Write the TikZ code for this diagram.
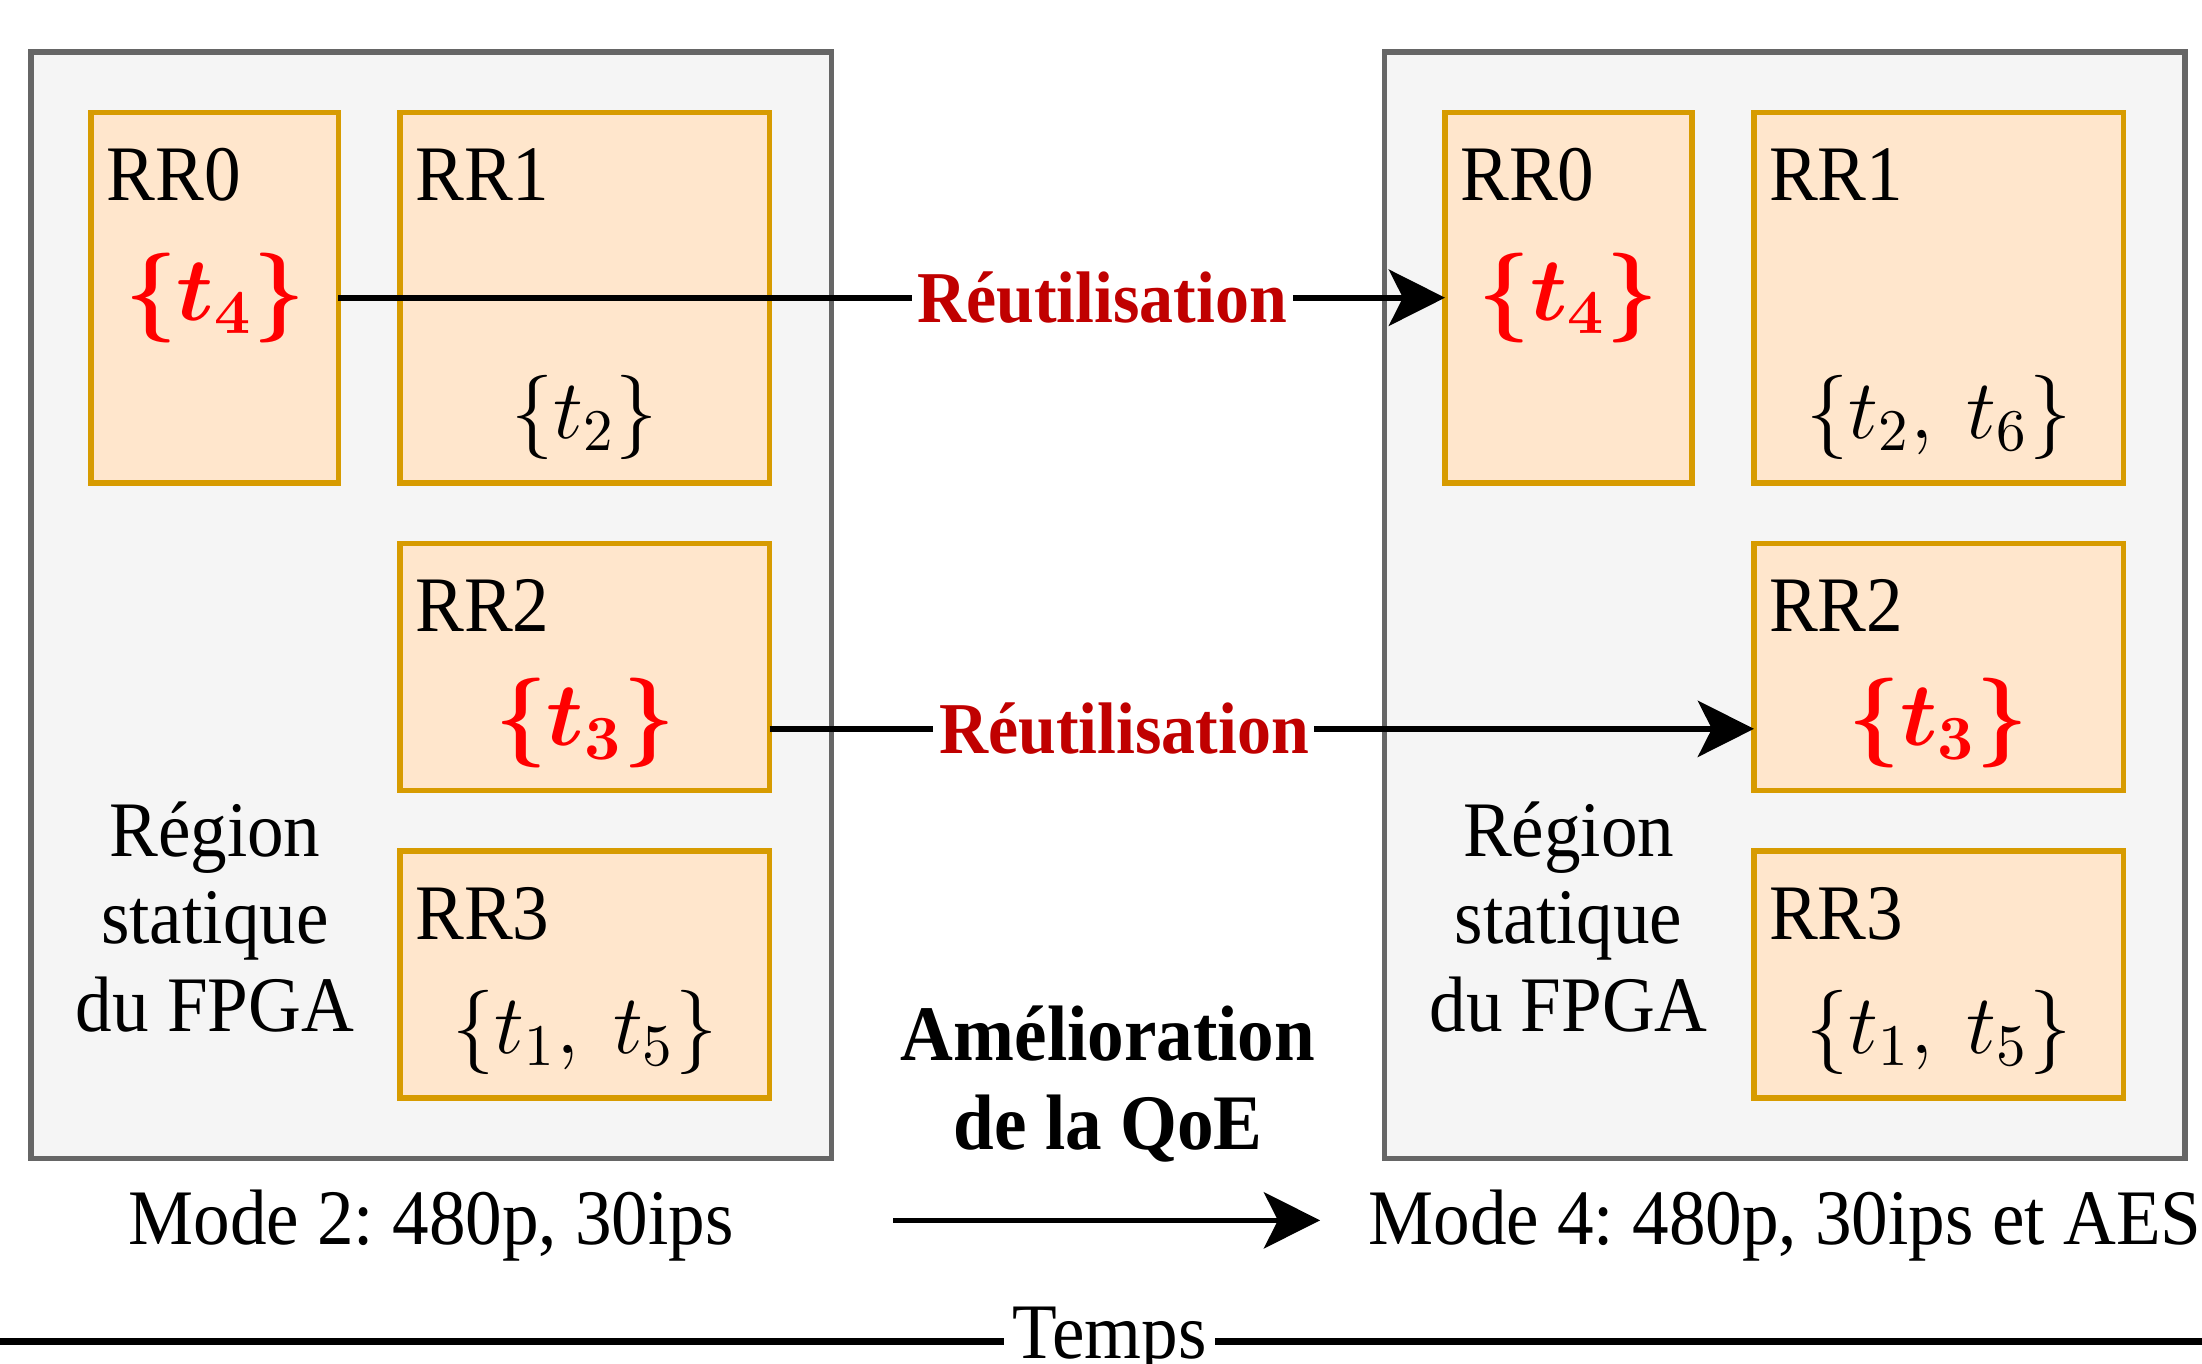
\RequirePackage{fix-cm}
\documentclass[tikz,border=0pt]{standalone}
\usepackage[no-math]{fontspec}
\setmainfont[FakeStretch=0.93]{Liberation Serif}
\usepackage{amsmath}
\usetikzlibrary{calc,positioning,arrows.meta}
\frenchspacing

\definecolor{regfill}{HTML}{F5F5F5}
\definecolor{regline}{HTML}{666666}
\definecolor{rrfill}{HTML}{FFE6CC}
\definecolor{rrline}{HTML}{D79B00}
\definecolor{reusered}{HTML}{C00000}

\tikzset{
  region/.style={draw=regline,fill=regfill,line width=1pt,inner sep=0pt,outer sep=0pt,
    anchor=north west,minimum width=142.5pt,minimum height=197pt},
  rrbox/.style={draw=rrline,fill=rrfill,line width=1pt,inner sep=0pt,outer sep=0pt,
    anchor=north west,minimum width=65.75pt,minimum height=44pt},
  rrname/.style={inner sep=0pt,font=\fontsize{14}{16}\selectfont},
  task/.style={inner sep=0pt,font=\fontsize{15}{18}\selectfont},
  hottask/.style={inner sep=0pt,text=red,font=\fontsize{16}{19}\selectfont\boldmath},
  reuselabel/.style={fill=white,inner sep=1pt,text=reusered,font=\fontsize{13}{15}\selectfont\bfseries},
  bodytext/.style={inner sep=0pt,align=center,font=\fontsize{14}{15.5}\selectfont},
  reusearrow/.style={-{Stealth[length=10pt,width=10pt,inset=2.5pt]},line width=1pt},
}

\begin{document}
\begin{tikzpicture}[x=0.25pt,y=-0.25pt]
  \useasboundingbox (0,0) rectangle (1568,971);
  \clip (0,0) rectangle (1568,971);

  % the FPGA before and after the switch
  \foreach \s/\dx/\tone in {a/0/{\{t_2\}},b/964/{\{t_2,\ t_6\}}}{
    \begin{scope}[xshift=\dx*0.25pt]
      \node[region] (reg\s) at (22,37) {};
      \node[rrbox,minimum width=44pt,minimum height=66pt] (rr0\s) at (65,80) {};
      \node[rrbox,minimum height=66pt] (rr1\s) at (285,80) {};
      \node[rrbox] (rr2\s) at (285,387) {};
      \node[rrbox] (rr3\s) at (285,606) {};
      \foreach \i in {0,...,3}
        \node[rrname,below right=6.25pt and 2.5pt of rr\i\s.north west] (name\i\s) {RR\i};
      \node[hottask] (tfour\s) at (rr0\s.center) {$\{t_4\}$};
      \node[task] (ttwo\s) at ([yshift=-21.25pt]rr1\s.center) {$\tone$};
      \node[hottask] (tthree\s) at ([yshift=-10pt]rr2\s.center) {$\{t_3\}$};
      \node[task] (tonefive\s) at ([yshift=-10.25pt]rr3\s.center) {$\{t_1,\ t_5\}$};
      \node[bodytext] (static\s) at (153,653) {Région\\statique\\du FPGA};
    \end{scope}
  }

  \node[bodytext] (mode2) at ([yshift=-12pt]rega.south) {Mode 2: 480p, 30ips};
  \node[bodytext] (mode4) at ([yshift=-12pt]regb.south) {Mode 4: 480p, 30ips et AES};

  \draw[reusearrow] (rr0a.east) -- node[reuselabel,pos=0.69] (reuse1) {Réutilisation} (rr0b.west);
  \draw[reusearrow] ($(rr2a.north east)!0.75!(rr2a.south east)$)
    -- node[reuselabel,pos=0.36] (reuse2) {Réutilisation}
    ($(rr2b.north west)!0.75!(rr2b.south west)$);

  \node[bodytext,font=\fontsize{14}{15.75}\selectfont\bfseries] (qoe) at (789,772) {Amélioration\\de la QoE};
  \coordinate (qoeL) at (636,869);
  \coordinate (qoeR) at (940,869);
  \draw[reusearrow] (qoeL) -- (qoeR);

  \coordinate (timeL) at (0,955);
  \coordinate (timeR) at (1568,955);
  \draw[line width=1.25pt] (timeL) -- node[bodytext,fill=white,inner sep=1.5pt,pos=0.504] (temps) {Temps} (timeR);
\end{tikzpicture}
\end{document}
